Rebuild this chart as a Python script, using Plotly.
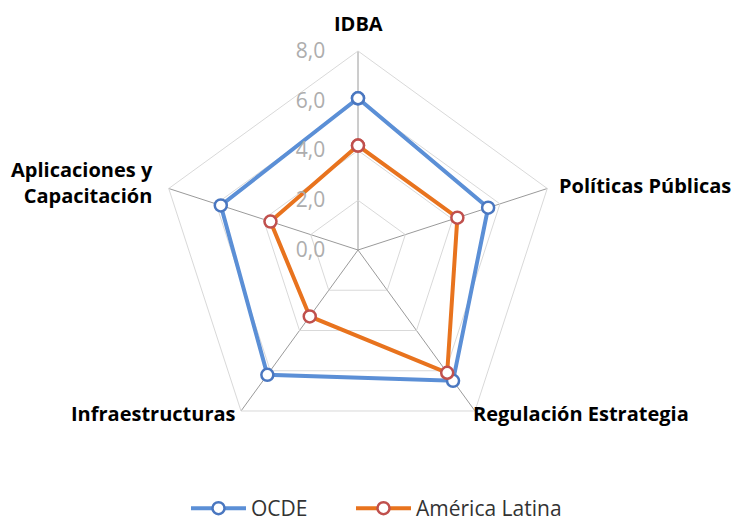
import plotly.graph_objects as go

categories = ["IDBA", "Políticas Públicas", "Regulación Estrategia", "Infraestructuras", "Aplicaciones y Capacitación"]
ocde = [6.1, 5.5, 6.5, 6.2, 5.8]
america_latina = [4.2, 4.2, 6.1, 3.3, 3.7]
tick_vals = [0, 2, 4, 6, 8]
tick_text = ["0,0", "2,0", "4,0", "6,0", "8,0"]

W, H = 736, 529  # page window is 523 tall; a little bottom padding is hidden

def closed(v):
    return list(v) + [v[0]]

fig = go.Figure()
fig.add_trace(go.Scatterpolar(
    r=closed(ocde), theta=closed(categories), name="OCDE", mode="lines+markers",
    line=dict(color="#5B8FD6", width=4),
    marker=dict(size=12, color="white", line=dict(color="#4A77C0", width=2.5)),
    legend="legend",
))
fig.add_trace(go.Scatterpolar(
    r=closed(america_latina), theta=closed(categories), name="América Latina", mode="lines+markers",
    line=dict(color="#E8731E", width=4),
    marker=dict(size=12, color="white", line=dict(color="#C0504D", width=2.5)),
    legend="legend2",
))

cx, cy, R = 358, 250, 199
leg_font = dict(size=21, color="#333")
fig.update_layout(
    width=W, height=H,
    margin=dict(l=0, r=0, t=0, b=0),
    paper_bgcolor="white", plot_bgcolor="white",
    font=dict(family="Open Sans", color="#222"),
    polar=dict(
        domain=dict(x=[(cx - R) / W, (cx + R) / W], y=[1 - (cy + R) / H, 1 - (cy - R) / H]),
        gridshape="linear",
        bgcolor="white",
        radialaxis=dict(range=[0, 8], tickvals=tick_vals, ticktext=tick_text, angle=90,
                        side="counterclockwise", tickangle=90,
                        tickfont=dict(size=21, color="#ADADAD", family="Open Sans"),
                        gridcolor="#D9D9D9", gridwidth=1, showline=False,
                        ticks="outside", ticklen=25, tickcolor="rgba(0,0,0,0)"),
        angularaxis=dict(rotation=90, direction="clockwise", showticklabels=False,
                         gridcolor="#9A9A9A", gridwidth=1, linecolor="#D9D9D9", linewidth=1, ticks=""),
    ),
    legend=dict(orientation="h", x=186 / W, xanchor="left", y=0, yanchor="bottom",
                font=leg_font, itemwidth=55),
    legend2=dict(orientation="h", x=351 / W, xanchor="left", y=0, yanchor="bottom",
                 font=leg_font, itemwidth=55),
    showlegend=True,
)

lab = dict(size=20, color="black", family="Open Sans")
anns = [
    dict(text="<b>IDBA</b>", x=358, y=24, xanchor="center", yanchor="middle"),
    dict(text="<b>Políticas Públicas</b>", x=733, y=185, xanchor="right", yanchor="middle"),
    dict(text="<b>Regulación Estrategia</b>", x=471, y=413, xanchor="left", yanchor="middle"),
    dict(text="<b>Infraestructuras</b>", x=238, y=413, xanchor="right", yanchor="middle"),
    dict(text="<b>Aplicaciones y<br>Capacitación</b>", x=155, y=183, xanchor="right", yanchor="middle", align="right"),
]
for a in anns:
    fig.add_annotation(text=a["text"], x=a["x"] / W, y=1 - a["y"] / H, xref="paper", yref="paper",
                       xanchor=a["xanchor"], yanchor=a["yanchor"], align=a.get("align", "center"),
                       showarrow=False, font=lab)

fig.write_html("out.html", config={"displayModeBar": False},
               post_script="document.body.style.margin='0';document.body.style.overflow='hidden';")
